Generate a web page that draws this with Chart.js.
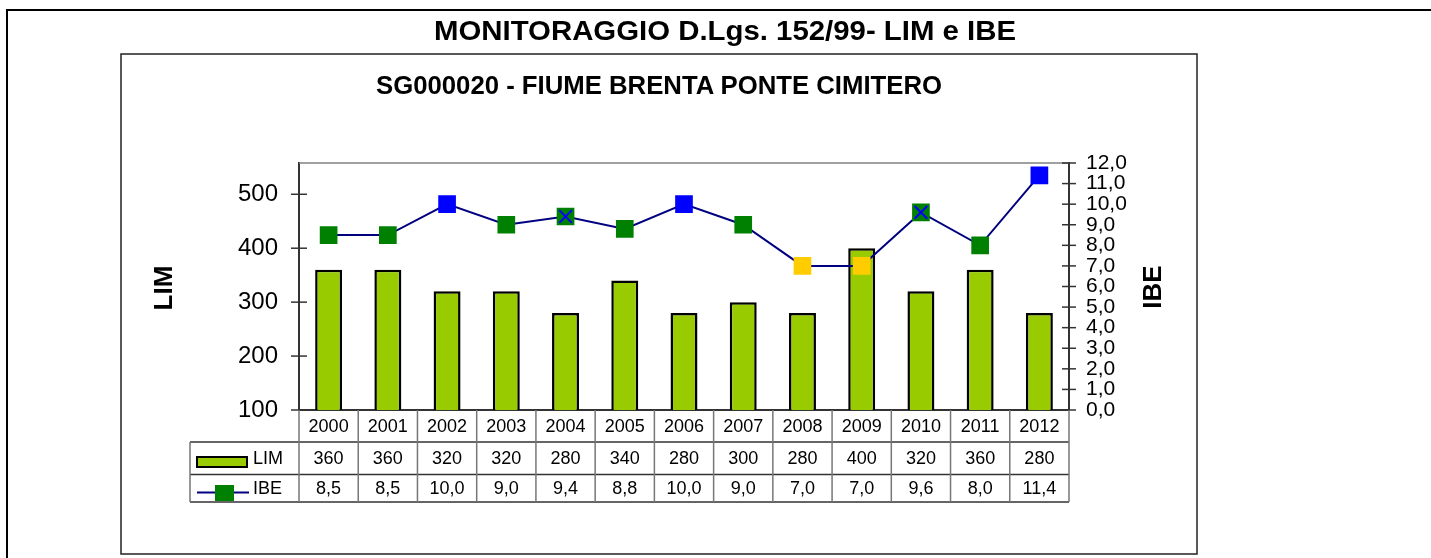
<!DOCTYPE html>
<html>
<head>
<meta charset="utf-8">
<script src="https://cdn.jsdelivr.net/npm/chart.js@4/dist/chart.umd.min.js"></script>
<style>
  html, body { margin: 0; padding: 0; background: #fff; }
  #wrap { position: relative; width: 1431px; height: 558px; overflow: hidden; }
  #c { position: absolute; left: 0; top: 0; }
  .ttl { position: absolute; white-space: nowrap; font-family: "Liberation Sans", Arial, sans-serif;
         font-weight: bold; color: #000; transform-origin: 0 0; }
  #t1 { font-size: 28px; line-height: 28px; top: 17px; left: 434px; }
  #t2 { font-size: 25px; line-height: 25px; top: 73px; left: 376px; }
</style>
</head>
<body>
<div id="wrap">
  <canvas id="c" width="1431" height="558"></canvas>
  <div class="ttl" id="t1" data-w="582">MONITORAGGIO D.Lgs. 152/99- LIM e IBE</div>
  <div class="ttl" id="t2" data-w="566">SG000020 - FIUME BRENTA PONTE CIMITERO</div>
</div>
<script>
// Monitoring years and the two indices
const YEARS = ['2000','2001','2002','2003','2004','2005','2006','2007','2008','2009','2010','2011','2012'];
const LIM = [360, 360, 320, 320, 280, 340, 280, 300, 280, 400, 320, 360, 280];
const IBE = [8.5, 8.5, 10.0, 9.0, 9.4, 8.8, 10.0, 9.0, 7.0, 7.0, 9.6, 8.0, 11.4];
// IBE class colour of each marker, and years whose marker carries a cross
const IBE_COLORS = ['#008000','#008000','#0000FF','#008000','#008000','#008000','#0000FF',
                    '#008000','#FFCC00','#FFCC00','#008000','#008000','#0000FF'];
const IBE_CROSSED = [false,false,false,false,true,false,false,false,false,false,true,false,false];
// Axis ranges and ticks
const LIM_TICKS = [100, 200, 300, 400, 500];
const LIM_MIN = 100, LIM_MAX = 558;
const IBE_MIN = 0, IBE_MAX = 12, IBE_STEP = 1;

const FONT = '"Liberation Sans", Arial, sans-serif';
Chart.defaults.font.family = FONT;
Chart.defaults.color = '#000';

const fmtIBE = v => v.toFixed(1).replace('.', ',');

// fit the two titles to their drawn widths
document.querySelectorAll('.ttl').forEach(el => {
  const w = el.getBoundingClientRect().width;
  el.style.transform = 'scaleX(' + (parseFloat(el.dataset.w) / w) + ')';
});

const framePlugin = {
  id: 'frame',
  beforeDraw(chart) {
    const ctx = chart.ctx;
    ctx.save();
    // outer sheet frame
    ctx.strokeStyle = '#000'; ctx.lineWidth = 2;
    ctx.beginPath(); ctx.moveTo(7, 558); ctx.lineTo(7, 10); ctx.lineTo(1431, 10); ctx.stroke();
    // chart box
    ctx.strokeStyle = '#222'; ctx.lineWidth = 1.5;
    ctx.strokeRect(121, 54, 1076, 500);
    ctx.restore();
  },
  afterDraw(chart) {
    const ctx = chart.ctx, a = chart.chartArea;
    const x = chart.scales.x, y = chart.scales.y, y1 = chart.scales.y1;
    ctx.save();
    // plot area top edge
    ctx.strokeStyle = '#808080'; ctx.lineWidth = 1.5;
    ctx.beginPath(); ctx.moveTo(a.left, a.top); ctx.lineTo(a.right, a.top); ctx.stroke();
    // crossing tick marks on both value axes
    ctx.strokeStyle = '#333'; ctx.lineWidth = 1.5;
    y.ticks.forEach(t => {
      const p = y.getPixelForValue(t.value);
      ctx.beginPath(); ctx.moveTo(a.left - 8, p); ctx.lineTo(a.left + 8, p); ctx.stroke();
    });
    y1.ticks.forEach(t => {
      const p = y1.getPixelForValue(t.value);
      ctx.beginPath(); ctx.moveTo(a.right - 7, p); ctx.lineTo(a.right + 7, p); ctx.stroke();
    });

    // axis titles
    ctx.fillStyle = '#000';
    ctx.font = 'bold 26px ' + FONT;
    ctx.textAlign = 'center'; ctx.textBaseline = 'middle';
    [['LIM', 164, 288], ['IBE', 1153, 287]].forEach(([s, cx, cy]) => {
      ctx.save(); ctx.translate(cx, cy); ctx.rotate(-Math.PI / 2); ctx.fillText(s, 0, 1); ctx.restore();
    });

    // data table under the plot
    const n = YEARS.length;
    const band = (a.right - a.left) / n;
    const rowTop = a.bottom, row1 = 442, row2 = 474.5, rowEnd = 502, tblLeft = 190;
    ctx.lineWidth = 1.5;
    ctx.strokeStyle = '#333';
    ctx.beginPath();
    [row1, row2, rowEnd].forEach(yy => { ctx.moveTo(tblLeft, yy); ctx.lineTo(a.right, yy); });
    ctx.stroke();
    ctx.strokeStyle = '#777';
    ctx.beginPath();
    ctx.moveTo(tblLeft, row1); ctx.lineTo(tblLeft, rowEnd);
    for (let i = 0; i <= n; i++) {
      const bx = a.left + i * band;
      ctx.moveTo(bx, rowTop); ctx.lineTo(bx, rowEnd);
    }
    ctx.stroke();

    ctx.font = '18px ' + FONT;
    ctx.textAlign = 'center'; ctx.textBaseline = 'middle';
    YEARS.forEach((yr, i) => {
      const cx = x.getPixelForValue(i);
      ctx.fillText(yr, cx, (rowTop + row1) / 2 + 1);
      ctx.fillText(String(LIM[i]), cx, (row1 + row2) / 2 + 1);
      ctx.fillText(fmtIBE(IBE[i]), cx, (row2 + rowEnd) / 2 + 1);
    });

    // legend keys inside the table
    ctx.fillStyle = '#99CC00'; ctx.strokeStyle = '#000'; ctx.lineWidth = 2;
    ctx.fillRect(197, 457, 50, 10); ctx.strokeRect(197, 457, 50, 10);
    ctx.strokeStyle = '#000080'; ctx.lineWidth = 2;
    ctx.beginPath(); ctx.moveTo(197, 492.5); ctx.lineTo(249, 492.5); ctx.stroke();
    ctx.fillStyle = '#008000'; ctx.fillRect(215, 485, 19, 16);
    ctx.fillStyle = '#000'; ctx.textAlign = 'left';
    ctx.font = '18px ' + FONT;
    ctx.fillText('LIM', 253, (row1 + row2) / 2 + 1);
    ctx.fillText('IBE', 253, (row2 + rowEnd) / 2 + 1);
    ctx.restore();
  }
};

new Chart(document.getElementById('c'), {
  data: {
    labels: YEARS,
    datasets: [
      {
        type: 'line', label: 'IBE', data: IBE.map((v, i) => IBE_CROSSED[i] ? v : null),
        yAxisID: 'y1', showLine: false, pointStyle: 'crossRot', pointRadius: 9,
        pointBorderColor: '#0000FF', pointBorderWidth: 2, order: 0
      },
      {
        type: 'line', label: 'IBE', data: IBE, yAxisID: 'y1',
        borderColor: '#000080', borderWidth: 2, tension: 0,
        pointStyle: 'rect', pointRadius: 12.5, pointBorderWidth: 0,
        pointBackgroundColor: IBE_COLORS, pointBorderColor: IBE_COLORS, order: 1
      },
      {
        type: 'bar', label: 'LIM', data: LIM, yAxisID: 'y',
        backgroundColor: '#99CC00', borderColor: '#000', borderWidth: 2.5,
        barPercentage: 0.455, categoryPercentage: 1, order: 2
      }
    ]
  },
  options: {
    responsive: false, animation: false, devicePixelRatio: 1,
    layout: { padding: { top: 163, left: 0, right: 0, bottom: 0 } },
    plugins: { legend: { display: false }, tooltip: { enabled: false }, title: { display: false } },
    scales: {
      x: {
        type: 'category', offset: true,
        grid: { display: false }, ticks: { display: false },
        border: { display: true, color: '#333', width: 2 },
        afterFit: s => { s.height = 148; }
      },
      y: {
        position: 'left', min: LIM_MIN, max: LIM_MAX,
        afterBuildTicks: s => { s.ticks = LIM_TICKS.map(v => ({ value: v })); },
        ticks: { font: { size: 24 }, padding: 21, color: '#000' },
        grid: { display: true, drawOnChartArea: false, drawTicks: false },
        border: { display: true, color: '#333', width: 2 },
        afterFit: s => { s.width = 299; }
      },
      y1: {
        position: 'right', min: IBE_MIN, max: IBE_MAX,
        ticks: { stepSize: IBE_STEP, autoSkip: false, font: { size: 21 }, padding: 17,
                 color: '#000', callback: v => fmtIBE(v) },
        grid: { display: true, drawOnChartArea: false, drawTicks: false },
        border: { display: true, color: '#333', width: 2 },
        afterFit: s => { s.width = 362; }
      }
    }
  },
  plugins: [framePlugin]
});
</script>
</body>
</html>
